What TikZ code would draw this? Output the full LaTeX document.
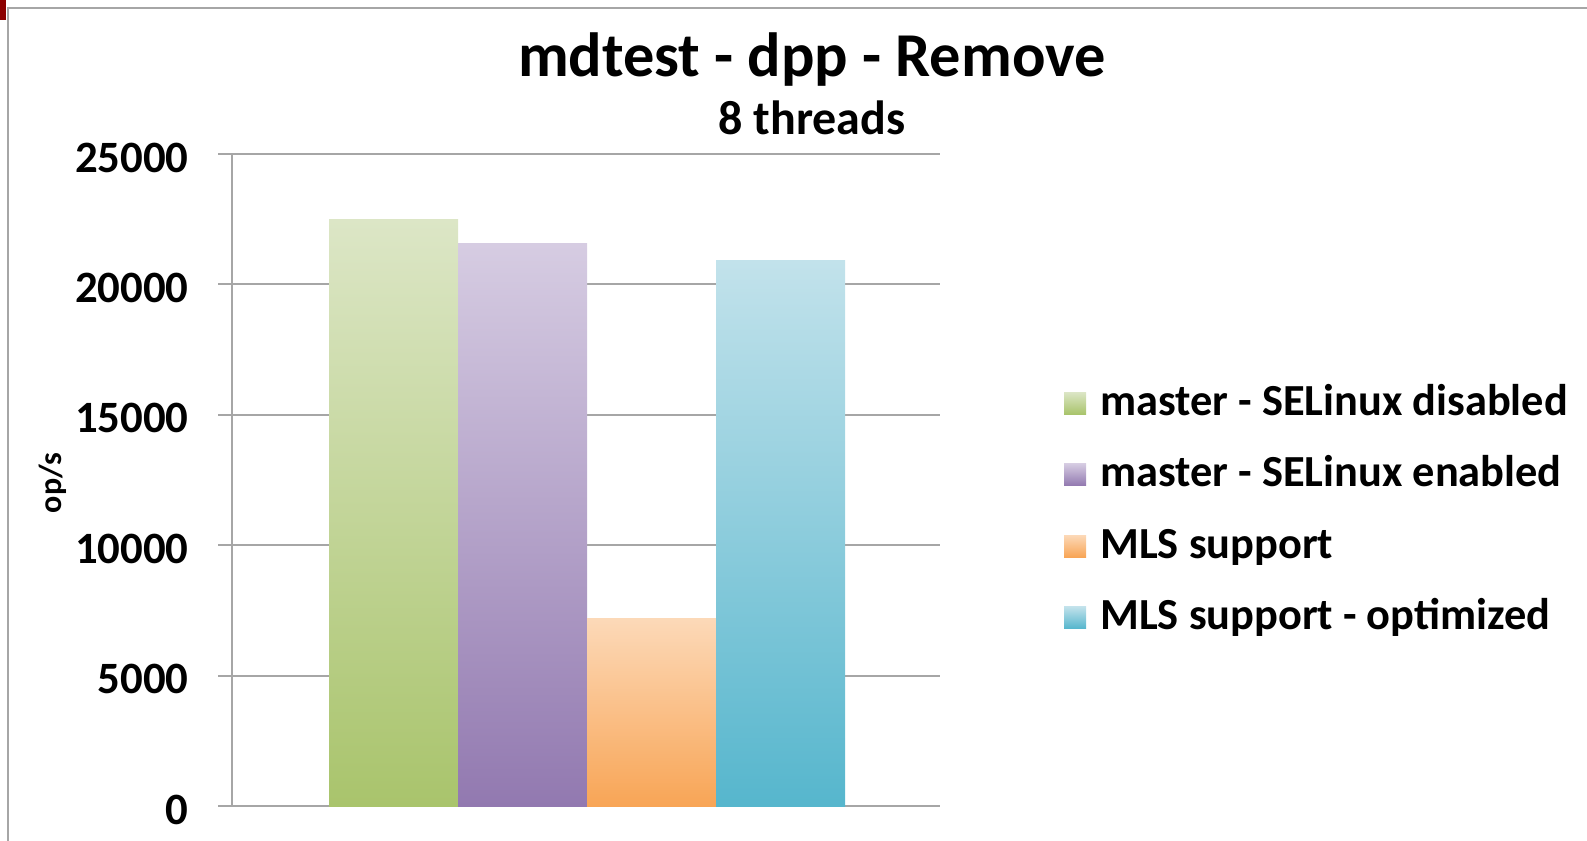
\documentclass[tikz,border=0pt]{standalone}
\usepackage{fontspec}
\setmainfont{Carlito}
\definecolor{greenTop}{HTML}{DCE6C6}
\definecolor{greenBot}{HTML}{A9C46C}
\definecolor{purpleTop}{HTML}{D6CCE2}
\definecolor{purpleBot}{HTML}{9279B0}
\definecolor{orangeTop}{HTML}{FCD9B8}
\definecolor{orangeBot}{HTML}{F8A556}
\definecolor{blueTop}{HTML}{C2E2EB}
\definecolor{blueBot}{HTML}{56B6CD}
\definecolor{gridGray}{HTML}{A6A6A6}
\begin{document}
\begin{tikzpicture}[x=0.5pt,y=-0.5pt,font=\bfseries]
  \useasboundingbox (0,0) rectangle (1587,841);
  %% Pixels for one thousand op/s on the axis.
  \def\unit{26.08}
  %% Position of the zero line.
  \def\base{806}
  %% Width of one bar.
  \def\barwidth{129}
  %% Left edge of the first bar.
  \def\barstart{329}
  %% Gap between two legend rows.
  \def\rowgap{71.5}

  %% The frame round the chart.
  \fill[red!55!black] (0,0) rectangle (6,20);
  \draw[gridGray, line width=1pt] (8,841) -- (8,8) -- (1587,8);

  %% Grid lines and their labels.
  \foreach \v/\txt in {0/0,5/5000,10/10000,15/15000,20/20000,25/25000}
  {
    \draw[gridGray, line width=1pt] (218,{\base-\v*\unit}) -- (940,{\base-\v*\unit});
    \node[anchor=base east, inner sep=0pt, font=\fontsize{22.4}{22.4}\selectfont\bfseries] (tick\v) at (189,{\base-\v*\unit+18}) {\txt};
  }
  \draw[gridGray, line width=1pt] (232,{\base-25*\unit}) -- (232,\base);

  %% The bars.
  \foreach \i/\val/\top/\bot in {0/22.5/greenTop/greenBot,1/21.55/purpleTop/purpleBot,2/7.2/orangeTop/orangeBot,3/20.9/blueTop/blueBot}
  \shade[top color=\top, bottom color=\bot] ({\barstart+\i*\barwidth},{\base-\val*\unit}) rectangle ({\barstart+(\i+1)*\barwidth},\base);

  %% Titles.
  \node[anchor=base, font=\fontsize{31.2}{31.2}\selectfont\bfseries] (title) at (812,76) {mdtest - dpp - Remove};
  \node[anchor=base, font=\fontsize{24}{24}\selectfont\bfseries] (subtitle) at (812,134) {8 threads};
  \node[rotate=90, font=\fontsize{16}{16}\selectfont\bfseries] (ylabel) at (53,483) {op/s};

  %% The legend.
  \foreach \i/\top/\bot/\txt in {0/greenTop/greenBot/master - SELinux disabled,1/purpleTop/purpleBot/master - SELinux enabled,2/orangeTop/orangeBot/MLS support,3/blueTop/blueBot/MLS support - optimized}
  {
    \shade[top color=\top, bottom color=\bot] (1064,{392+\i*\rowgap}) rectangle (1086,{414+\i*\rowgap});
    \node[anchor=base west, inner sep=0pt, font=\fontsize{22.2}{22.2}\selectfont\bfseries] (leg\i) at (1100,{415+\i*\rowgap}) {\txt};
  }
\end{tikzpicture}
\end{document}
